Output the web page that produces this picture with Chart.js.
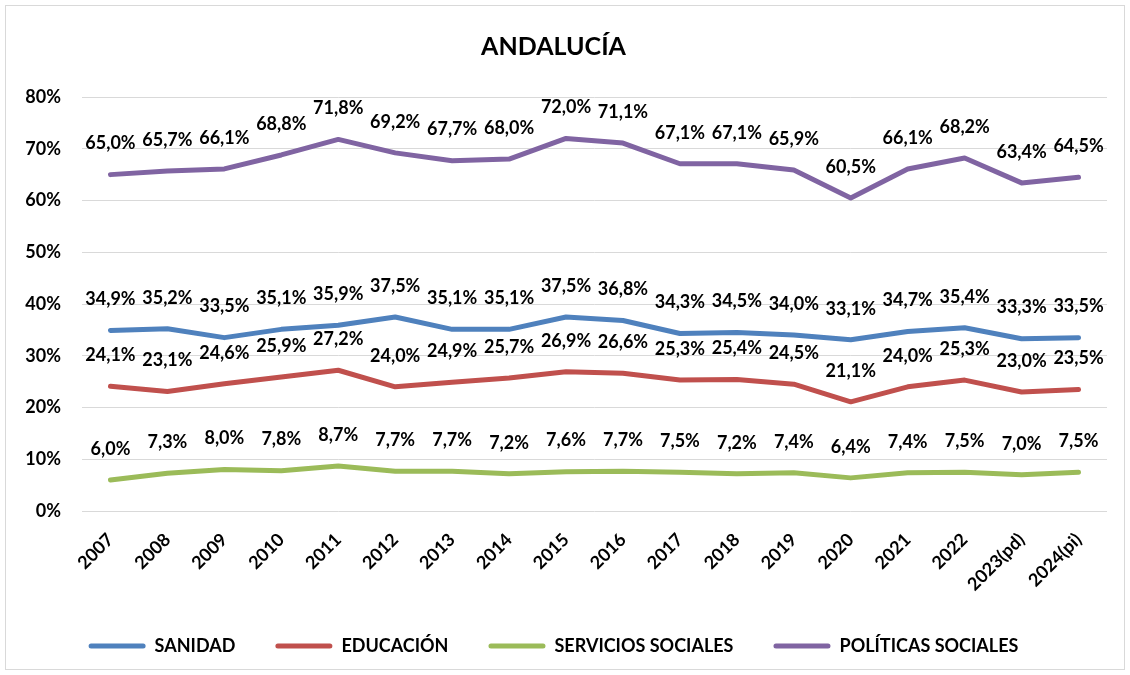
<!DOCTYPE html>
<html>
<head>
<meta charset="utf-8">
<script src="https://cdn.jsdelivr.net/npm/chart.js@4/dist/chart.umd.min.js"></script>
<style>
  html, body { margin: 0; padding: 0; background: #fff; }
  #c { display: block; }
</style>
</head>
<body>
<canvas id="c" width="1130" height="675"></canvas>
<script>
const categories = ["2007","2008","2009","2010","2011","2012","2013","2014","2015","2016","2017","2018","2019","2020","2021","2022","2023(pd)","2024(pi)"];
const sanidad = [34.9,35.2,33.5,35.1,35.9,37.5,35.1,35.1,37.5,36.8,34.3,34.5,34.0,33.1,34.7,35.4,33.3,33.5];
const educacion = [24.1,23.1,24.6,25.9,27.2,24.0,24.9,25.7,26.9,26.6,25.3,25.4,24.5,21.1,24.0,25.3,23.0,23.5];
const serviciosSociales = [6.0,7.3,8.0,7.8,8.7,7.7,7.7,7.2,7.6,7.7,7.5,7.2,7.4,6.4,7.4,7.5,7.0,7.5];
const politicasSociales = [65.0,65.7,66.1,68.8,71.8,69.2,67.7,68.0,72.0,71.1,67.1,67.1,65.9,60.5,66.1,68.2,63.4,64.5];
const seriesNames = ["SANIDAD","EDUCACIÓN","SERVICIOS SOCIALES","POLÍTICAS SOCIALES"];
const yTicks = [0,10,20,30,40,50,60,70,80];

const FONT = "Lato, 'Noto Sans', sans-serif";
const colors = ["#4F81BD","#C0504D","#9BBB59","#8064A2"];

function fmt(v){ return v.toFixed(1).replace('.', ',') + '%'; }

const borderPlugin = {
  id: 'frame',
  beforeDraw(chart){
    const ctx = chart.ctx;
    ctx.save();
    ctx.fillStyle = '#fff';
    ctx.fillRect(0,0,chart.width,chart.height);
    ctx.strokeStyle = '#D9D9D9';
    ctx.lineWidth = 1;
    ctx.strokeRect(5.5, 5.5, 1119, 664);
    ctx.restore();
  }
};

const labelPlugin = {
  id: 'valueLabels',
  afterDatasetsDraw(chart){
    const ctx = chart.ctx;
    ctx.save();
    ctx.font = "bold 18px " + FONT;
    ctx.fillStyle = '#000';
    ctx.textAlign = 'center';
    ctx.textBaseline = 'middle';
    chart.data.datasets.forEach((ds, i) => {
      const meta = chart.getDatasetMeta(i);
      meta.data.forEach((pt, j) => {
        ctx.fillText(fmt(ds.data[j]), pt.x, pt.y - 31);
      });
    });
    ctx.restore();
  }
};

const legendFit = {
  id: 'legendFit',
  afterInit(chart){
    const lg = chart.legend;
    if (lg) {
      const origFit = lg.fit;
      lg.fit = function(){ origFit.call(this); this.height = 42; };
      const origDraw = lg._draw;
      lg._draw = function(){
        const ctx = this.ctx;
        ctx.save();
        ctx.translate(0, -23);
        origDraw.call(this);
        ctx.restore();
      };
    }
  }
};

function ds(label, data, color){
  return {
    label, data,
    borderColor: color, backgroundColor: color,
    borderWidth: 5, pointRadius: 0, pointHoverRadius: 0,
    tension: 0, borderCapStyle: 'round', borderJoinStyle: 'round', fill: false
  };
}

new Chart(document.getElementById('c'), {
  type: 'line',
  data: {
    labels: categories,
    datasets: [
      ds(seriesNames[0], sanidad, colors[0]),
      ds(seriesNames[1], educacion, colors[1]),
      ds(seriesNames[2], serviciosSociales, colors[2]),
      ds(seriesNames[3], politicasSociales, colors[3])
    ]
  },
  options: {
    responsive: false,
    animation: false,
    devicePixelRatio: 1,
    layout: { padding: { left: 0, right: 23, top: 18, bottom: 13 } },
    plugins: {
      title: {
        display: true, text: 'ANDALUCÍA', color: '#000',
        font: { family: FONT, size: 25, weight: 'bold' },
        padding: { top: 14, bottom: 35 }
      },
      legend: {
        position: 'bottom',
        labels: {
          color: '#000',
          font: { family: FONT, size: 18, weight: 'bold' },
          boxWidth: 57, boxHeight: 5, padding: 40,
          useBorderRadius: true, borderRadius: 2.5,
          generateLabels(chart){
            return Chart.defaults.plugins.legend.labels.generateLabels(chart).map(l => Object.assign(l, { lineWidth: 0, strokeStyle: l.fillStyle }));
          }
        }
      },
      tooltip: { enabled: false }
    },
    scales: {
      x: {
        offset: true,
        grid: { display: false },
        border: { display: false },
        ticks: {
          color: '#000', font: { family: FONT, size: 18, weight: 'bold' },
          minRotation: 45, maxRotation: 45, padding: 10, autoSkip: false
        },
        afterFit(scale){ scale.height = 109; }
      },
      y: {
        min: 0, max: 80,
        grid: { color: '#D9D9D9', lineWidth: 1, drawTicks: false },
        border: { display: false },
        afterBuildTicks(scale){ scale.ticks = yTicks.map(v => ({ value: v })); },
        ticks: {
          color: '#000', font: { family: FONT, size: 18, weight: 'bold' },
          padding: 21,
          callback: v => v + '%'
        },
        afterFit(scale){ scale.width = 82; }
      }
    }
  },
  plugins: [borderPlugin, labelPlugin, legendFit]
});
</script>
</body>
</html>
